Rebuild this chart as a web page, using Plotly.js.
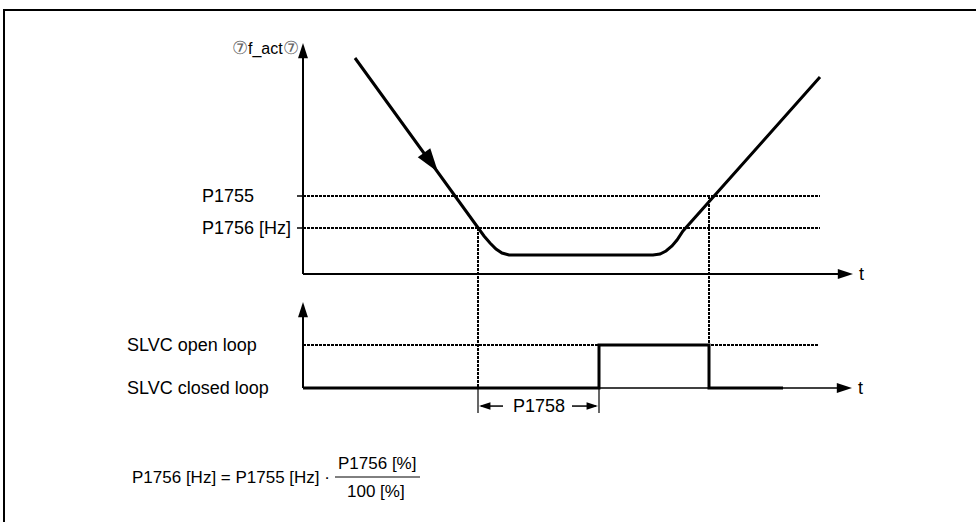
<!DOCTYPE html>
<html><head><meta charset="utf-8">
<script src="https://cdn.plot.ly/plotly-3.0.1.min.js"></script>
<style>html,body{margin:0;padding:0;background:#fff;}#chart{width:976px;height:522px;}</style>
</head><body><div id="chart"></div>
<script>
// ---- data (time and frequency in diagram units) ----
const fTime = [5.2, 17.5, 18.1, 18.7, 19.3, 19.9, 20.6, 35.0, 35.7, 36.3, 36.9, 37.4, 38.0, 51.7];
const fAct  = [21.6, 4.6, 3.8, 3.1, 2.5, 2.1, 1.9, 1.9, 2.0, 2.3, 2.8, 3.4, 4.3, 19.7];
const P1755 = 7.8;
const P1756 = 4.6;
const levelValues = [P1755, P1756];
const levelLabels = ['P1755', 'P1756 [Hz]'];
const modeTime  = [0, 29.6, 40.6, 48.0];
const modeState = [0, 1, 0, 0];
const modeValues = [1, 0];
const modeLabels = ['SLVC open loop', 'SLVC closed loop'];
const tCrossLow  = 17.5;   // f_act falls below P1756
const tSwitch    = 29.6;   // switch to open loop after P1758
const tCrossHigh = 40.6;   // f_act rises above P1755
const dirArrowT = [13.5];
const dirArrowF = [10.2];

// ---- layout constants ----
const X_RANGE = [-30.3, 67.3];
const Y_RANGE = [-24.8, 27.4];
const Y2_RANGE = [-(522 - 388) / 43, 388 / 43];
const T_AXIS_END = 55.0, F_AXIS_END = 23.1, S_AXIS_END = 2.0, T_AXIS2_END = 54.9;
const LEVEL_END = 51.7, OPEN_END = 51.6;
const FONT = 'Liberation Sans, Arial, sans-serif';
const DOT = '3px,1px';
function y2ToY(s) {
  const fr = (s - Y2_RANGE[0]) / (Y2_RANGE[1] - Y2_RANGE[0]);
  return Y_RANGE[0] + fr * (Y_RANGE[1] - Y_RANGE[0]);
}
const blk = '#000';
function line(x, y, w, dash, yaxis, shape) {
  return {type: 'scatter', mode: 'lines', x: x, y: y, yaxis: yaxis || 'y',
    line: {color: blk, width: w, dash: dash || 'solid', shape: shape || 'linear'}, hoverinfo: 'skip'};
}
function arrows(x, y, ang, size, yaxis) {
  return {type: 'scatter', mode: 'markers', x: x, y: y, yaxis: yaxis || 'y',
    marker: {symbol: 'arrow', angle: ang, size: size, color: blk, line: {width: 0}}, hoverinfo: 'skip', cliponaxis: false};
}

const traces = [];
// top panel axes
traces.push(line([0, 0], [0, F_AXIS_END - 0.8], 2));
traces.push(line([0, T_AXIS_END - 0.8], [0, 0], 2));
traces.push(arrows([0, T_AXIS_END], [F_AXIS_END, 0], [0, 90], 16));
// threshold levels
levelValues.forEach(v => {
  traces.push(line([0, LEVEL_END], [v, v], 2, DOT));
  traces.push(line([-0.6, 0], [v, v], 1.5));
});
// vertical markers
traces.push(line([tCrossLow, tCrossLow], [P1756, y2ToY(0)], 2, DOT));
traces.push(line([tCrossHigh, tCrossHigh], [P1755, y2ToY(1)], 2, DOT));
// f_act curve
traces.push(line(fTime, fAct, 3));
traces.push(arrows(dirArrowT, dirArrowF, [144], 25));

// bottom panel
traces.push(line([0, 0], [0, S_AXIS_END - 0.1], 2, 'solid', 'y2'));
traces.push(line([0, T_AXIS2_END - 0.8], [0, 0], 1.5, 'solid', 'y2'));
traces.push(arrows([0, T_AXIS2_END], [S_AXIS_END, 0], [0, 90], 16, 'y2'));
traces.push(line([0, OPEN_END], [1, 1], 2, DOT, 'y2'));
traces.push(line(modeTime, modeState, 3, 'solid', 'y2', 'hv'));
// P1758 bracket
traces.push(line([tCrossLow, tCrossLow, null, tSwitch, tSwitch], [0, -0.58, null, 0, -0.58], 1.2, 'solid', 'y2'));
traces.push(line([tCrossLow + 0.3, tCrossLow + 2.5, null, tSwitch - 2.7, tSwitch - 0.3], [-0.42, -0.42, null, -0.42, -0.42], 1.5, 'solid', 'y2'));
traces.push(arrows([tCrossLow + 0.1, tSwitch - 0.1], [-0.42, -0.42], [270, 90], 12, 'y2'));

const ann = [];
const tf = {family: FONT, size: 18, color: blk};
const ff = {family: FONT, size: 17, color: blk};
levelValues.forEach((v, i) => ann.push({x: -10.3, y: v, xref: 'x', yref: 'y', text: levelLabels[i], showarrow: false, xanchor: 'left', yanchor: 'middle', font: tf}));
modeValues.forEach((v, i) => ann.push({x: -17.8, y: v, xref: 'x', yref: 'y2', text: modeLabels[i], showarrow: false, xanchor: 'left', yanchor: 'middle', font: tf}));
ann.push({x: 55.4, y: 0, xref: 'x', yref: 'y', text: 't', showarrow: false, xanchor: 'left', yanchor: 'middle', font: tf});
ann.push({x: 55.3, y: 0, xref: 'x', yref: 'y2', text: 't', showarrow: false, xanchor: 'left', yanchor: 'middle', font: tf});
ann.push({x: -0.2, y: 22.6, xref: 'x', yref: 'y', text: '<span style="color:#666;font-size:18px">⑦</span>f_act<span style="color:#666;font-size:18px">⑦</span>', showarrow: false, xanchor: 'right', yanchor: 'middle', font: {family: FONT, size: 16, color: blk}});
ann.push({x: (tCrossLow + tSwitch) / 2, y: -0.42, xref: 'x', yref: 'y2', text: 'P1758', showarrow: false, xanchor: 'center', yanchor: 'middle', font: tf});
// formula
ann.push({x: 130 / 976, y: 1 - 477 / 522, xref: 'paper', yref: 'paper', text: 'P1756 [Hz] = P1755 [Hz] ·', showarrow: false, xanchor: 'left', yanchor: 'middle', font: ff});
ann.push({x: 377 / 976, y: 1 - 463 / 522, xref: 'paper', yref: 'paper', text: 'P1756 [%]', showarrow: false, xanchor: 'center', yanchor: 'middle', font: ff});
ann.push({x: 376 / 976, y: 1 - 491 / 522, xref: 'paper', yref: 'paper', text: '100 [%]', showarrow: false, xanchor: 'center', yanchor: 'middle', font: ff});

const shapes = [
  {type: 'line', xref: 'paper', yref: 'paper', x0: 3 / 976, x1: 1, y0: 1 - 10 / 522, y1: 1 - 10 / 522, line: {color: blk, width: 2}},
  {type: 'line', xref: 'paper', yref: 'paper', x0: 4 / 976, x1: 4 / 976, y0: 0, y1: 1 - 10 / 522, line: {color: blk, width: 2}},
  {type: 'line', xref: 'paper', yref: 'paper', x0: 335 / 976, x1: 420 / 976, y0: 1 - 477 / 522, y1: 1 - 477 / 522, line: {color: blk, width: 1}}
];

const layout = {
  width: 976, height: 522, margin: {l: 0, r: 0, t: 0, b: 0},
  paper_bgcolor: '#fff', plot_bgcolor: '#fff', showlegend: false, hovermode: false,
  xaxis: {range: X_RANGE, visible: false, fixedrange: true},
  yaxis: {range: Y_RANGE, visible: false, fixedrange: true},
  yaxis2: {range: Y2_RANGE, visible: false, fixedrange: true, overlaying: 'y'},
  annotations: ann, shapes: shapes, font: {family: FONT}
};
Plotly.newPlot('chart', traces, layout, {staticPlot: true, displayModeBar: false});
</script></body></html>
